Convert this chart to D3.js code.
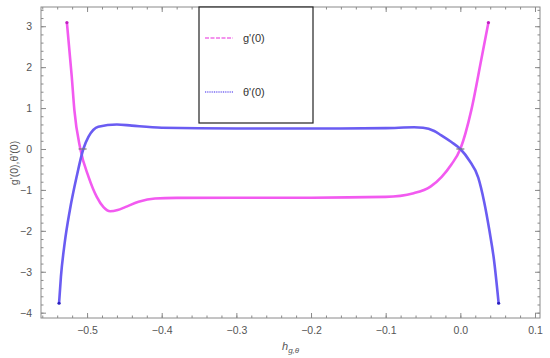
<!DOCTYPE html>
<html>
<head>
<meta charset="utf-8">
<script src="https://cdn.jsdelivr.net/npm/d3@7"></script>
<style>
  body { margin: 0; background: #fff; }
  svg { font-family: "Liberation Sans", Arial, sans-serif; }
</style>
</head>
<body>
<svg width="550" height="358"></svg>
<script>
// g'(0) curve (magenta)
const gX = [-0.527, -0.5205, -0.517, -0.509, -0.498, -0.487, -0.478, -0.469, -0.459, -0.449, -0.431, -0.409, -0.38, -0.3, -0.2, -0.1, -0.0625, -0.04, -0.025, -0.012, 0.0, 0.0147, 0.028, 0.0376];
const gY = [3.09, 1.77, 0.95, 0.0, -0.68, -1.17, -1.42, -1.52, -1.49, -1.42, -1.29, -1.21, -1.195, -1.19, -1.19, -1.17, -1.08, -0.92, -0.68, -0.38, 0.0, 0.95, 2.18, 3.09];

// theta'(0) curve (blue)
const tX = [-0.5375, -0.535, -0.530, -0.523, -0.514, -0.505, -0.498, -0.485, -0.460, -0.44, -0.40, -0.3, -0.2, -0.1, -0.062, -0.05, -0.035, -0.026, -0.012, 0.0, 0.012, 0.024, 0.032, 0.039, 0.045, 0.0513];
const tY = [-3.77, -3.12, -2.3, -1.49, -0.68, 0.0, 0.3, 0.545, 0.60, 0.57, 0.52, 0.50, 0.50, 0.51, 0.53, 0.52, 0.44, 0.34, 0.17, 0.0, -0.28, -0.7, -1.3, -2.0, -2.7, -3.77];

const xTicks = [-0.5, -0.4, -0.3, -0.2, -0.1, 0.0, 0.1];
const yTicks = [-4, -3, -2, -1, 0, 1, 2, 3];
const legendLabels = ["g'(0)", "\u03b8'(0)"];

const svg = d3.select('svg');
const x = d3.scaleLinear().domain([-0.5617, 0.1067]).range([41, 540]);
const y = d3.scaleLinear().domain([-4.13, 3.47]).range([318, 7]);

const frameCol = '#8a8a8a';
const labelCol = '#555';
const fmt = d => (d < 0 ? '\u2212' : '') + Math.abs(d).toFixed(1);
const fmtY = d => (d < 0 ? '\u2212' : '') + Math.abs(d);

const xMinor = d3.range(-0.56, 0.107, 0.02).map(v => +v.toFixed(2));
const yMinor = d3.range(-4.0, 3.41, 0.2).map(v => +v.toFixed(1));

// frame
svg.append('rect')
  .attr('x', 41).attr('y', 7).attr('width', 499).attr('height', 311)
  .attr('fill', 'none').attr('stroke', frameCol).attr('stroke-width', 1);

function styleAxis(g) {
  g.select('.domain').remove();
  g.selectAll('line').attr('stroke', frameCol);
  g.selectAll('text').attr('fill', labelCol).attr('font-size', 10.5);
}

// bottom + top
svg.append('g').attr('transform', 'translate(0,318)')
  .call(d3.axisBottom(x).tickValues(xMinor).tickSize(-2.5).tickFormat('')).call(styleAxis);
svg.append('g').attr('transform', 'translate(0,318)')
  .call(d3.axisBottom(x).tickValues(xTicks).tickSizeInner(-5).tickSizeOuter(0).tickPadding(9).tickFormat(fmt)).call(styleAxis);
svg.append('g').attr('transform', 'translate(0,7)')
  .call(d3.axisTop(x).tickValues(xMinor).tickSize(-2.5).tickFormat('')).call(styleAxis);
svg.append('g').attr('transform', 'translate(0,7)')
  .call(d3.axisTop(x).tickValues(xTicks).tickSize(-5).tickFormat('')).call(styleAxis);

// left + right
svg.append('g').attr('transform', 'translate(41,0)')
  .call(d3.axisLeft(y).tickValues(yMinor).tickSize(-2.5).tickFormat('')).call(styleAxis);
svg.append('g').attr('transform', 'translate(41,0)')
  .call(d3.axisLeft(y).tickValues(yTicks).tickSizeInner(-5).tickSizeOuter(0).tickPadding(9).tickFormat(fmtY)).call(styleAxis);
svg.append('g').attr('transform', 'translate(540,0)')
  .call(d3.axisRight(y).tickValues(yMinor).tickSize(-2.5).tickFormat('')).call(styleAxis);
svg.append('g').attr('transform', 'translate(540,0)')
  .call(d3.axisRight(y).tickValues(yTicks).tickSize(-5).tickFormat('')).call(styleAxis);

// curves
const line = d3.line().x(d => x(d[0])).y(d => y(d[1])).curve(d3.curveMonotoneX);
const gData = d3.zip(gX, gY);
const tData = d3.zip(tX, tY);

svg.append('path').datum(gData).attr('d', line)
  .attr('fill', 'none').attr('stroke', '#f25af0').attr('stroke-width', 2.6);
svg.append('path').datum(tData).attr('d', line)
  .attr('fill', 'none').attr('stroke', '#6a5cf2').attr('stroke-width', 2.6);

// end-point markers
[[gData[0], '#c020c0'], [gData[gData.length - 1], '#c020c0'],
 [tData[0], '#2a20c0'], [tData[tData.length - 1], '#2a20c0']].forEach(([p, c]) => {
  svg.append('circle').attr('cx', x(p[0])).attr('cy', y(p[1])).attr('r', 1.6).attr('fill', c);
});

// small marks at the zero crossings
[-0.506, 0.0].forEach(v => {
  svg.append('line')
    .attr('x1', x(v) - 4).attr('x2', x(v) + 4)
    .attr('y1', y(0)).attr('y2', y(0))
    .attr('stroke', '#777').attr('stroke-width', 1.2);
});

// legend
const lg = svg.append('g');
lg.append('rect').attr('x', 199).attr('y', 7).attr('width', 114).attr('height', 116)
  .attr('fill', '#fff').attr('stroke', '#222').attr('stroke-width', 1.2);
const legendRows = [
  { label: legendLabels[0], color: '#f070e8', dash: '4,1.5', ly: 38 },
  { label: legendLabels[1], color: '#7a6cf2', dash: '1,0.8', ly: 92 }
];
legendRows.forEach(r => {
  lg.append('line').attr('x1', 205).attr('x2', 233).attr('y1', r.ly).attr('y2', r.ly)
    .attr('stroke', r.color).attr('stroke-width', 1.4).attr('stroke-dasharray', r.dash);
  lg.append('text').attr('x', 243).attr('y', r.ly + 4)
    .attr('font-size', 11).attr('fill', '#333').text(r.label);
});

// axis labels
svg.append('text')
  .attr('transform', 'translate(18,163) rotate(-90)')
  .attr('text-anchor', 'middle').attr('font-size', 10.5).attr('fill', labelCol)
  .text("g'(0),\u03b8'(0)");

const xl = svg.append('text').attr('x', 282).attr('y', 350).attr('fill', labelCol).attr('font-size', 11);
xl.append('tspan').attr('font-style', 'italic').text('h');
xl.append('tspan').attr('font-style', 'italic').attr('font-size', 8).attr('dy', 3).text('g,\u03b8');
</script>
</body>
</html>
